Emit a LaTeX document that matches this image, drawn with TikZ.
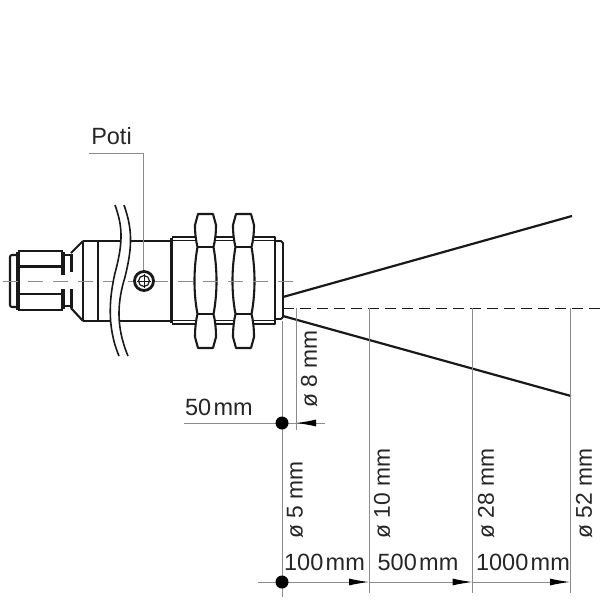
\documentclass[tikz,border=0pt]{standalone}
\usepackage{fontspec}
\setmainfont{Liberation Sans}
\usetikzlibrary{arrows.meta}
\tikzset{
  thickline/.style={draw=black!90,line width=2.1pt,line join=round},
  midline/.style={draw=black!90,line width=1.2pt},
  dimline/.style={draw=black!45,line width=1pt},
  arrowline/.style={draw=black!45,line width=1pt,-{Latex[black,length=20pt,width=7pt,sep=0pt]}},
  axisline/.style={draw=black!45,line width=0.8pt,dash pattern=on 15pt off 10pt},
  beam/.style={draw=black!90,line width=2.2pt},
  dot/.style={circle,fill=black,inner sep=0pt,minimum size=13pt},
  lab/.style={font=\fontsize{23.5}{25}\selectfont,text=black!85,inner sep=0pt},
  rotlab/.style={font=\fontsize{22.8}{25}\selectfont,text=black!85,inner sep=0pt,rotate=90,anchor=west},
  nutshape/.pic={
    \path[fill=white,thickline] (195,225)--(198,214)--(213,214)--(216,225)
      .. controls (216,234) and (215,241) .. (213.5,247)
      .. controls (215.5,258) and (216.5,270) .. (216.5,281)
      .. controls (216.5,292) and (215.5,304) .. (213.5,314)
      .. controls (215,320) and (216,328) .. (216,337)--(213,348)--(198,348)--(195,337)
      .. controls (195,328) and (196,320) .. (197.5,314)
      .. controls (195.5,304) and (194.5,292) .. (194.5,281)
      .. controls (194.5,270) and (195.5,258) .. (197.5,247)
      .. controls (196,241) and (195,234) .. (195,225)--cycle;
    \draw[thickline] (197.5,247)--(213.5,247) (197.5,314)--(213.5,314);
  }
}
\newcommand{\mmtxt}[1]{#1\hspace{0.1em}mm}
\begin{document}
\begin{tikzpicture}[x=1pt,y=-1pt]
\useasboundingbox[fill=white] (0,0) rectangle (600,600);
% connector
\draw[thickline,rounded corners=2pt] (17,255)--(10,255)--(10,307)--(17,307);
\draw[thickline,line width=3.2pt] (18,252)--(18,310);
\draw[thickline] (18,251)--(63,251) (18,310)--(63,310);
\draw[thickline] (18,266.5)--(63,266.5) (18,294)--(63,294);
\draw[thickline,line width=4pt] (63,252)--(63,275) (63,289)--(63,309);
\draw[thickline] (65,255)--(70,255) (65,306)--(70,306);
\draw[thickline,line width=3.4pt] (71.5,254)--(71.5,272) (71.5,289)--(71.5,308);
\draw[thickline] (71,253)--(83,241) (71,308)--(83,321);
% body
\draw[thickline] (83,241)--(170,241) (83,321)--(170,321);
\draw[thickline] (83,241)--(83,321) (98,241)--(98,321);
% thread
\draw[thickline,line width=3.2pt] (171.5,238)--(171.5,323);
\draw[thickline] (172,237)--(275,237)--(275,324)--(172,324);
\draw[midline,line width=0.8pt] (172,240)--(275,240) (172,320)--(275,320);
\draw[thickline,line width=1.8pt] (275,241)--(281,241)--(283,243)--(283,317)--(281,319)--(275,319);
% nuts
\pic at (0,0) {nutshape};
\pic at (38,0) {nutshape};
% centre axis
\draw[axisline] (3,281)--(297,281);
% break lines
\path[fill=white] (115,205) .. controls (122,225) and (124,240) .. (115,273) .. controls (110,295) and (106,325) .. (119,356)
  -- (128,356) .. controls (115,325) and (118,300) .. (125,277) .. controls (133,245) and (132,228) .. (124,205) -- cycle;
\draw[thickline,line width=1.6pt] (115,205) .. controls (122,225) and (124,240) .. (115,273) .. controls (110,295) and (106,325) .. (119,356);
\draw[thickline,line width=1.6pt] (124,205) .. controls (132,228) and (133,245) .. (125,277) .. controls (118,300) and (115,325) .. (128,356);
% poti
\coordinate (potitop) at (143,153);
\coordinate (potileft) at (89,153);
\node[circle,draw=black!90,line width=2.8pt,fill=white,minimum size=19pt,inner sep=0pt] (poti) at (144,281) {};
\node[circle,draw=black!90,line width=1.2pt,minimum size=11pt,inner sep=0pt] (potiin) at (144,281) {};
\draw[midline,line width=1pt] (137,281)--(151,281) (144,274)--(144,288);
\draw[dimline] (potileft)--(potitop)--(143,270);
\node[lab,anchor=center] (potilabel) at (111.5,136) {Poti};
% beam
\coordinate (tipa) at (283,297); \coordinate (tipb) at (283,316);
\coordinate (enda) at (572,216); \coordinate (endb) at (571,396);
\coordinate (axs) at (283,308); \coordinate (axe) at (600,308);
\draw[beam] (tipa)--(enda);
\draw[beam] (tipb)--(endb);
\draw[draw=black!90,line width=1pt,dash pattern=on 11pt off 6pt] (axs)--(axe);
% dimension lines
\coordinate (v0t) at (282,321); \coordinate (v0b) at (282,597);
\coordinate (v8t) at (296,308); \coordinate (v8b) at (296,430);
\coordinate (v1t) at (369,308); \coordinate (v1b) at (369,593);
\coordinate (v2t) at (472.5,308); \coordinate (v2b) at (472.5,593);
\coordinate (v3t) at (570,308); \coordinate (v3b) at (570,593);
\draw[dimline] (v0t)--(v0b);
\draw[dimline] (v8t)--(v8b);
\draw[dimline] (v1t)--(v1b);
\draw[dimline] (v2t)--(v2b);
\draw[dimline] (v3t)--(v3b);
\coordinate (h1l) at (184,423); \coordinate (h1r) at (325,423); \coordinate (h1m) at (296,423);
\draw[dimline] (h1l)--(h1r);
\draw[arrowline] (h1r)--(h1m);
\coordinate (h2l) at (258,582);
\coordinate (p1) at (369,582); \coordinate (p2) at (472.5,582); \coordinate (p3) at (570,582);
\draw[arrowline] (h2l)--(p1);
\draw[arrowline] (p1)--(p2);
\draw[arrowline] (p2)--(p3);
\node[dot] (d1) at (282,423) {};
\node[dot] (d2) at (282,582) {};
% labels
\node[lab] (l50) at (219,407) {\mmtxt{50}};
\node[lab] (l100) at (324.5,562) {\mmtxt{100}};
\node[lab] (l500) at (418,562) {\mmtxt{500}};
\node[lab] (l1000) at (523,562) {\mmtxt{1000}};
\node[rotlab] (r8) at (309,408) {ø 8 mm};
\node[rotlab] (r5) at (295,539) {ø 5 mm};
\node[rotlab] (r10) at (382,539) {ø 10 mm};
\node[rotlab] (r28) at (486,539) {ø 28 mm};
\node[rotlab] (r52) at (584,539) {ø 52 mm};
\end{tikzpicture}
\end{document}
